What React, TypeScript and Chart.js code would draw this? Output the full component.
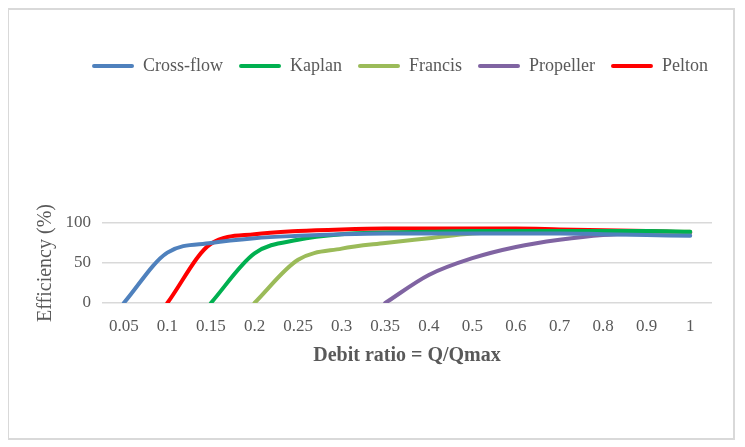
import { useEffect, useRef } from "react";
import { Chart, registerables } from "chart.js";

Chart.register(...registerables);

const categories = ["0.05", "0.1", "0.15", "0.2", "0.25", "0.3", "0.35", "0.4", "0.5", "0.6", "0.7", "0.8", "0.9", "1"];
const crossFlow = [0, 63, 75, 81, 84, 86, 87, 87, 87, 87, 87, 86, 85, 84];
const kaplan = [null, null, 0, 62, 79, 86, 88, 89, 90, 90, 90, 90, 90, 89];
const francis = [null, null, null, 0, 54, 68, 75, 81, 87, 89, 89, 89, 89, 89];
const propeller = [null, null, null, null, null, null, 0, 35, 56, 70, 79, 85, 87, 88];
const pelton = [null, 0, 74, 86, 90, 92, 93, 93, 93, 93, 92, 91, 90, 88];
const yTicks = [0, 50, 100];

const FONT = "'Liberation Serif', 'Times New Roman', serif";
const GRAY = "#595959";

export default function App() {
  const ref = useRef<HTMLCanvasElement>(null);

  useEffect(() => {
    if (!ref.current) return;
    const legendSpacer = {
      id: "legendSpacer",
      beforeInit(chart: any) {
        const legend = chart.legend;
        if (!legend) return;
        const orig = legend.fit;
        legend.fit = function () {
          orig.call(this);
          this.height = 182;
          if (this.lineWidths && this.lineWidths.length === 1) this.lineWidths[0] -= 33;
        };
      },
    };
    const mk = (label: string, data: (number | null)[], color: string) => ({
      label,
      data,
      borderColor: color,
      backgroundColor: color,
      borderWidth: 4,
      pointRadius: 0,
      cubicInterpolationMode: "monotone" as const,
      borderCapStyle: "round" as const,
      spanGaps: false,
    });
    const chart = new Chart(ref.current, {
      type: "line",
      data: {
        labels: categories,
        datasets: [
          mk("Cross-flow", crossFlow, "#4F81BD"),
          mk("Kaplan", kaplan, "#00B050"),
          mk("Francis", francis, "#9BBB59"),
          mk("Propeller", propeller, "#8064A2"),
          mk("Pelton", pelton, "#FF0000"),
        ],
      },
      options: {
        responsive: true,
        maintainAspectRatio: false,
        animation: false,
        layout: { padding: { top: 31, left: 25, right: 0, bottom: 60 } },
        plugins: {
          tooltip: { enabled: false },
          legend: {
            position: "top",
            align: "center",
            labels: {
              boxWidth: 42,
              boxHeight: 4,
              padding: 16,
              color: GRAY,
              font: { family: FONT, size: 18 },
              generateLabels: (c: any) => {
                const items = (Chart.defaults.plugins.legend.labels as any).generateLabels(c);
                return items.map((it: any) => ({ ...it, fillStyle: it.strokeStyle, lineWidth: 0, borderRadius: 2 }));
              },
            },
          },
        },
        scales: {
          x: {
            type: "category",
            offset: true,
            grid: { display: false, drawTicks: false },
            border: { display: false },
            ticks: { color: GRAY, font: { family: FONT, size: 17 }, padding: 13, maxRotation: 0, autoSkip: false },
            title: {
              display: true,
              text: "Debit ratio = Q/Qmax",
              color: GRAY,
              font: { family: FONT, size: 20, weight: "bold" },
              padding: { top: 0, bottom: 10 },
            },
            afterFit: (scale: any) => {
              scale.height = 75;
            },
          },
          y: {
            min: 0,
            max: 100,
            afterBuildTicks: (scale: any) => {
              scale.ticks = yTicks.map((v) => ({ value: v }));
            },
            grid: { color: "#d9d9d9", lineWidth: 1.5, drawTicks: false },
            border: { display: false },
            ticks: { color: GRAY, font: { family: FONT, size: 17 }, padding: 11 },
            title: {
              display: true,
              text: "Efficiency (%)",
              color: GRAY,
              font: { family: FONT, size: 20 },
              padding: { top: 0, bottom: 0 },
            },
            afterFit: (scale: any) => {
              scale.width = 68;
            },
          },
          rightSpace: {
            type: "linear",
            position: "right",
            display: true,
            grid: { display: false, drawTicks: false },
            border: { display: false },
            ticks: { display: false },
            afterFit: (scale: any) => {
              scale.width = 21;
            },
          },
        },
      },
      plugins: [legendSpacer],
    });
    return () => chart.destroy();
  }, []);

  return (
    <div
      style={{
        position: "relative",
        width: 728,
        height: 432,
        boxSizing: "border-box",
        border: "2px solid #d9d9d9",
        marginLeft: -1,
        background: "#fff",
      }}
    >
      <canvas ref={ref} />
    </div>
  );
}
